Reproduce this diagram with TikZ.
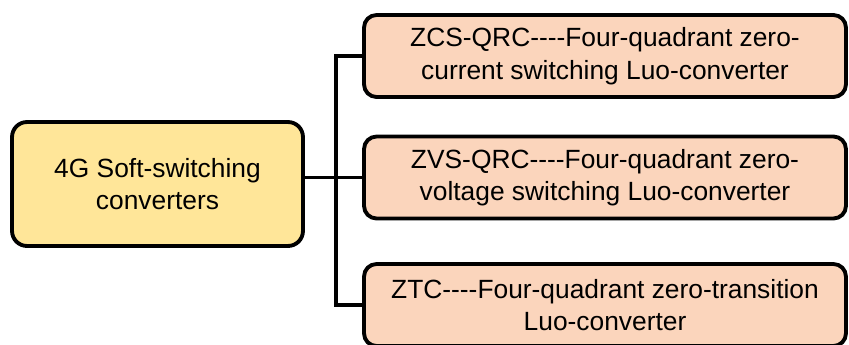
\documentclass[tikz,border=0pt]{standalone}
\usepackage{fontspec}
\setmainfont{Liberation Sans}[Ligatures=TeXOff]
\definecolor{rootfill}{HTML}{FFE699}
\definecolor{leaffill}{HTML}{FBD5BC}
\begin{document}
\begin{tikzpicture}[x=0.02cm, y=-0.02cm,
    rootbox/.style={draw, line width=2.2pt, rounded corners=0.3cm, fill=rootfill,
        minimum width=5.82cm, minimum height=2.48cm, align=center,
        font=\fontsize{15}{18.5}\selectfont},
    leafbox/.style={draw, line width=2.2pt, rounded corners=0.25cm, fill=leaffill,
        minimum width=9.64cm, minimum height=1.64cm, align=center,
        font=\fontsize{15}{18.5}\selectfont},
    link/.style={line width=2.2pt}]
    \useasboundingbox (0,0) rectangle (849,345);

    % Root
    \node[rootbox] (root) at (157.5,184) {4G Soft-switching\\converters};

    % Converter types
    \node[leafbox] (zcs) at (605,56) {ZCS-QRC----Four-quadrant zero-\\current switching Luo-converter};
    \node[leafbox] (zvs) at (605,177.5) {ZVS-QRC----Four-quadrant zero-\\voltage switching Luo-converter};
    \node[leafbox] (ztc) at (605,305) {ZTC----Four-quadrant zero-transition\\Luo-converter};

    % Connectors
    \coordinate (trunktop) at (336,56);
    \coordinate (trunkbot) at (336,305);
    \draw[link] (zcs.west) -- (trunktop) -- (trunkbot) -- (ztc.west);
    \draw[link] (root.east |- zvs.west) -- (zvs.west);
\end{tikzpicture}
\end{document}
